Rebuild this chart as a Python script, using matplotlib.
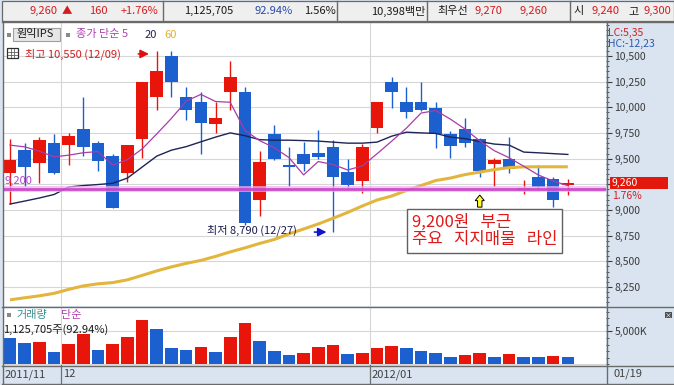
import matplotlib
matplotlib.use('Agg')
import matplotlib.pyplot as plt
from matplotlib.patches import Rectangle, FancyArrow
from matplotlib.lines import Line2D
from matplotlib.ticker import MultipleLocator
import matplotlib.transforms as mtrans

plt.rcParams['font.family'] = ['Noto Sans CJK KR', 'DejaVu Sans']

# ---------------- data ----------------
dates = ['11/25', '11/28', '11/29', '11/30',
         '12/01', '12/02', '12/05', '12/06', '12/07', '12/08', '12/09', '12/12',
         '12/13', '12/14', '12/15', '12/16', '12/19', '12/20', '12/21', '12/22',
         '12/23', '12/26', '12/27', '12/28', '12/29',
         '01/02', '01/03', '01/04', '01/05', '01/06', '01/09', '01/10', '01/11',
         '01/12', '01/13', '01/16', '01/17', '01/18', '01/19']
opens = [9360, 9580, 9460, 9650, 9630, 9790, 9650, 9530, 9360, 9690, 10100, 10500,
         10100, 10050, 9840, 10150, 10150, 9100, 9740, 9440, 9550, 9560, 9610, 9370,
         9280, 9800, 10250, 10050, 10050, 9990, 9740, 9790, 9690, 9450, 9500, 9190,
         9320, 9300, 9240]
highs = [9690, 9650, 9710, 9740, 9750, 10100, 9670, 9550, 9630, 10250, 10550, 10550,
         10200, 10150, 10050, 10450, 10200, 9570, 9830, 9610, 9660, 9780, 9680, 9500,
         9640, 10050, 10300, 10200, 10250, 10050, 9770, 9900, 9700, 9510, 9710, 9290,
         9440, 9320, 9300]
lows = [9060, 9230, 9260, 9350, 9440, 9530, 9380, 9020, 9270, 9510, 9970, 10100,
        9880, 9550, 9750, 9970, 8850, 8940, 9490, 9230, 9380, 9500, 8790, 9210,
        9170, 9750, 9990, 9900, 9960, 9600, 9510, 9610, 9320, 9230, 9360, 9160,
        9210, 9030, 9150]
closes = [9490, 9420, 9680, 9360, 9720, 9610, 9480, 9020, 9630, 10250, 10350, 10250,
          9970, 9850, 9900, 10300, 8870, 9470, 9500, 9420, 9450, 9520, 9320, 9240,
          9610, 10050, 10150, 9950, 9970, 9740, 9620, 9650, 9380, 9490, 9400, 9210,
          9220, 9100, 9260]
volumes = [4030000, 3270000, 3420000, 1910000, 3120000, 4540000, 2210000, 3120000,
           4180000, 6710000, 5350000, 2520000, 2210000, 2670000, 1910000, 4180000,
           6300000, 3580000, 2060000, 1450000, 1760000, 2670000, 2970000, 1560000,
           1760000, 2470000, 2770000, 2470000, 2020000, 1710000, 1100000, 1450000,
           1710000, 1100000, 1560000, 1100000, 1090000, 1260000, 1125705]
ma5 = [9632, 9615, 9573, 9518, 9534, 9558, 9569, 9437, 9490, 9595, 9741, 9893,
       10060, 10126, 10057, 10049, 9776, 9676, 9607, 9511, 9342, 9472, 9443, 9390,
       9429, 9547, 9670, 9797, 9944, 9969, 9885, 9788, 9673, 9577, 9509, 9426,
       9340, 9283, 9237]
ma20 = [9058, 9087, 9117, 9151, 9224, 9238, 9248, 9260, 9311, 9418, 9525, 9583,
        9617, 9664, 9710, 9751, 9724, 9685, 9680, 9680, 9676, 9671, 9661, 9651,
        9651, 9661, 9719, 9758, 9751, 9746, 9710, 9695, 9666, 9642, 9632, 9564,
        9557, 9549, 9541]
ma60 = [8125, 8145, 8164, 8188, 8227, 8261, 8281, 8293, 8320, 8363, 8407, 8446,
        8480, 8509, 8548, 8592, 8631, 8674, 8713, 8767, 8815, 8864, 8919, 8976,
        9039, 9097, 9136, 9190, 9238, 9287, 9311, 9345, 9369, 9394, 9413, 9420,
        9421, 9421, 9421]
price_ticks = [8250, 8500, 8750, 9000, 9250, 9500, 9750, 10000, 10250, 10500]
support_level = 9200
month_labels = ['2011/11', '12', '2012/01']
month_starts = [0, 4, 25]
high_idx, high_val = 10, 10550
low_idx, low_val = 22, 8790
signal_idx = 32
comment = '9,200원   부근\n주요   지지매물   라인'

RED = '#e8150b'
BLUE = '#1c5fcf'
TXT_RED = '#d41c1c'
GRID = '#d6d6d6'
FRAME = '#6a6a6a'

W, H = 674, 385
fig = plt.figure(figsize=(W / 100, H / 100), dpi=100)
fig.patch.set_facecolor('#dae4f0')


def fx(x):
    return x / W


def fy(y):
    return 1 - y / H


def box_ax(x0, y0, x1, y1):
    return fig.add_axes([fx(x0), fy(y1), (x1 - x0) / W, (y1 - y0) / H])


def fline(x0, y0, x1, y1, color=FRAME, lw=1.0):
    fig.add_artist(Line2D([fx(x0), fx(x1)], [fy(y0), fy(y1)], color=color, lw=lw,
                          transform=fig.transFigure))


def ftext(x, y, s, **kw):
    kw.setdefault('va', 'center')
    kw.setdefault('fontsize', 8)
    fig.text(fx(x), fy(y), s, **kw)


n = len(closes)
xs = list(range(n))

ax = box_ax(3, 22, 606, 306)
axv = box_ax(3, 307, 606, 365)
for a in (ax, axv):
    a.set_facecolor('white')
    a.set_xlim(-0.477, 40.6)
    for s in a.spines.values():
        s.set_visible(False)
    a.tick_params(axis='x', bottom=False, labelbottom=False)

ax.set_ylim(8065, 10831)
axv.set_ylim(-106000, 8682000)

# price axis on the right
ax.yaxis.set_ticks_position('right')
ax.set_yticks(price_ticks)
ax.set_yticklabels(['' if v == 9250 else f'{v:,}' for v in price_ticks])
ax.yaxis.set_minor_locator(MultipleLocator(50))
ax.tick_params(axis='y', which='major', direction='out', length=4, width=0.8,
               colors='#3a3a3a', labelsize=7.5, pad=2)
ax.tick_params(axis='y', which='minor', direction='out', length=2, width=0.6,
               colors='#3a3a3a')
for v in price_ticks:
    ax.axhline(v, color=GRID, lw=0.8, zorder=0)
for m in month_starts[1:]:
    ax.axvline(m - 0.5, color=GRID, lw=0.8, zorder=0)
    axv.axvline(m - 0.5, color=GRID, lw=0.8, zorder=0)

# candles
for i in xs:
    o, h, l, c = opens[i], highs[i], lows[i], closes[i]
    col = RED if c >= o else BLUE
    ax.vlines(i, l, h, color=col, lw=1.0, zorder=2)
    ax.bar(i, max(abs(c - o), 14), bottom=min(o, c), width=0.86, color=col,
           linewidth=0, zorder=3)

# moving averages
ax.plot(xs, ma60, color='#e2b53c', lw=2.2, zorder=4, solid_capstyle='butt')
ax.plot(xs, ma20, color='#1e2456', lw=1.0, zorder=4)
ax.plot(xs, ma5, color='#a83ca8', lw=0.9, zorder=4)

# support line
ax.axhline(support_level, color='#f0b0f0', lw=4.2, alpha=0.75, zorder=5)
ax.axhline(support_level, color='#c43ac4', lw=2.0, alpha=0.85, zorder=6)
ax.text(-0.36, support_level + 80, f'{support_level:,}', color='#b048cc',
        fontsize=8, ha='left', va='center', zorder=7)

# high / low annotations
ax.text(1.0, high_val - 30, f'최고 {high_val:,} ({dates[high_idx]})', color=TXT_RED,
        fontsize=8, ha='left', va='center', zorder=7)
ax.annotate('', xy=(high_idx - 0.35, high_val - 30), xytext=(high_idx - 1.45, high_val - 30),
            arrowprops=dict(arrowstyle='-|>,head_length=0.5,head_width=0.25',
                            color='#e01010', lw=1.2), zorder=7)
ax.text(13.4, low_val + 15, f'최저 {low_val:,} ({dates[low_idx]})', color='#1a1a50',
        fontsize=8, ha='left', va='center', zorder=7)
ax.annotate('', xy=(low_idx - 0.25, low_val - 5), xytext=(low_idx - 1.45, low_val - 5),
            arrowprops=dict(arrowstyle='-|>,head_length=0.5,head_width=0.25',
                            color='#1414d0', lw=1.2), zorder=7)

# yellow up-arrow signal
ax.add_patch(FancyArrow(signal_idx, support_level - 172, 0, 118, width=0.3,
                        head_width=0.62, head_length=55, length_includes_head=True,
                        fc='#ffff30', ec='black', lw=0.7, zorder=8))

# comment box
ax.text(27.38, 8795, comment, color='#e01818', fontsize=12,
        ha='left', va='center', linespacing=1.0, zorder=9,
        bbox=dict(boxstyle='square,pad=0.3', fc='white', ec='#606060', lw=1.0))

# volume
vcols = [BLUE] + [RED if volumes[i] > volumes[i - 1] else BLUE for i in range(1, n)]
axv.bar(xs, volumes, width=0.86, color=vcols, linewidth=0, zorder=3)
axv.axhline(5000000, color=GRID, lw=0.8, zorder=0)
axv.axhline(0, color=GRID, lw=0.8, zorder=0)
axv.yaxis.set_ticks_position('right')
axv.set_yticks([5000000])
axv.set_yticklabels(['5,000K'])
axv.yaxis.set_minor_locator(MultipleLocator(1000000))
axv.tick_params(axis='y', which='major', direction='out', length=4, width=0.8,
                colors='#3a3a3a', labelsize=7.5, pad=2)
axv.tick_params(axis='y', which='minor', direction='out', length=2, width=0.6,
                colors='#3a3a3a')

# date axis labels and dividers
dtr = mtrans.blended_transform_factory(axv.transData, axv.transAxes)
for m, lab in zip(month_starts, month_labels):
    xpos = max(m - 0.5, -0.477) + 0.12
    axv.text(xpos, -0.16, lab, transform=dtr, fontsize=8, color='#404040',
             ha='left', va='center', clip_on=False)
    if m > 0:
        axv.add_line(Line2D([m - 0.5, m - 0.5], [0, -0.31], transform=dtr,
                            color='#707070', lw=0.9, clip_on=False))
ftext(614, 374, dates[-1], color='#404040')

# ---------------- frames ----------------
fig.add_artist(Rectangle((fx(2), fy(21)), 672 / W, 20 / H, transform=fig.transFigure,
                         fc='#efefef', ec=FRAME, lw=0.9))
for xsep in (163, 337, 427, 570):
    fline(xsep, 1, xsep, 21)
fline(2, 21.5, 674, 21.5)
fline(2, 306.5, 674, 306.5)
fline(2, 365.5, 674, 365.5)
fline(2, 383.5, 674, 383.5)
fline(2.5, 21, 2.5, 384)
fline(606.5, 21, 606.5, 384)

# top info bar texts
ftext(57, 11, '9,260', color=TXT_RED, ha='right')
ftext(62, 11, '▲', color=TXT_RED, ha='left', fontsize=7.5)
ftext(108, 11, '160', color=TXT_RED, ha='right')
ftext(158, 11, '+1.76%', color=TXT_RED, ha='right')
ftext(233, 11, '1,125,705', color='#1a1a1a', ha='right')
ftext(293, 11, '92.94%', color='#2a4aa8', ha='right')
ftext(336, 11, '1.56%', color='#1a1a1a', ha='right')
ftext(425, 11, '10,398백만', color='#1a1a1a', ha='right')
ftext(437, 11, '최우선', color='#1a1a1a', ha='left')
ftext(502, 11, '9,270', color=TXT_RED, ha='right')
ftext(548, 11, '9,260', color=TXT_RED, ha='right')
ftext(573, 11, '시', color='#1a1a1a', ha='left')
ftext(620, 11, '9,240', color=TXT_RED, ha='right')
ftext(628, 11, '고', color='#1a1a1a', ha='left')
ftext(643, 11, '9,300', color=TXT_RED, ha='left')

# legend of price panel
fig.add_artist(Rectangle((fx(7), fy(37)), 4 / W, 4 / H, transform=fig.transFigure,
                         fc='#8a8a8a', ec='none'))
fig.add_artist(Rectangle((fx(13), fy(41)), 47 / W, 13 / H, transform=fig.transFigure,
                         fc='#e6e6e6', ec='#a0a0a0', lw=0.8))
ftext(17, 34.5, '원익IPS', color='#1a1a1a')
fig.add_artist(Rectangle((fx(66), fy(37)), 4 / W, 4 / H, transform=fig.transFigure,
                         fc='#8a8a8a', ec='none'))
ftext(76, 34.5, '종가 단순 5', color='#b040b0')
ftext(145, 34.5, '20', color='#1e2456')
ftext(164, 34.5, '60', color='#e0b030')

# table icon
fig.add_artist(Rectangle((fx(7), fy(58)), 11 / W, 10 / H, transform=fig.transFigure,
                         fc='white', ec='#303030', lw=0.9))
for yy in (51.5, 54.5):
    fline(8, yy, 17, yy, color='#606060', lw=0.6)
for xx in (10.5, 14):
    fline(xx, 49, xx, 57, color='#606060', lw=0.6)

# right panel texts
ftext(608, 33, 'LC:5,35', color='#d42020', fontsize=7.5)
ftext(608, 44, 'HC:-12,23', color='#2a5ab0', fontsize=7.5)
fig.add_artist(Rectangle((fx(610), fy(189)), 58 / W, 12 / H, transform=fig.transFigure,
                         fc='#e2180c', ec='none'))
ftext(612, 183, f'{closes[-1]:,}', color='white', fontsize=7.5)
ftext(612, 196, '1.76%', color='#d42020', fontsize=7.5)

# close icon in volume panel
fig.add_artist(Rectangle((fx(665), fy(318)), 7 / W, 6 / H, transform=fig.transFigure,
                         fc='#505050', ec='none'))
ftext(668.5, 315, '×', color='white', fontsize=5, ha='center')

# volume legend
fig.add_artist(Rectangle((fx(7), fy(317)), 4 / W, 4 / H, transform=fig.transFigure,
                         fc='#8a8a8a', ec='none'))
ftext(16, 315, '거래량', color='#3a8f8f')
ftext(61, 315, '단순', color='#b040b0')
ftext(3, 330, f'{volumes[-1]:,}주(92.94%)', color='#1a1a1a')

fig.savefig('out.png', dpi=100, facecolor=fig.get_facecolor())
